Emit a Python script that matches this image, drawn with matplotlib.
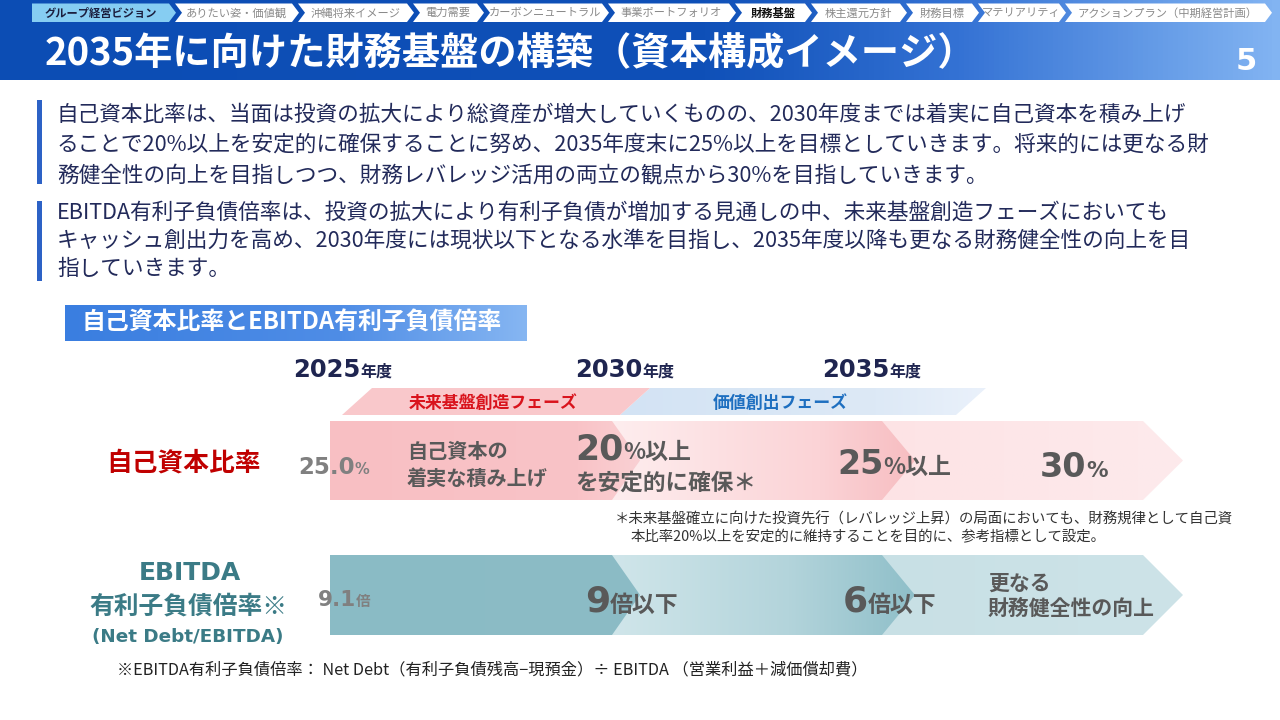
import numpy as np
import matplotlib
matplotlib.use("Agg")
import matplotlib.pyplot as plt
from matplotlib.patches import Polygon, Rectangle
from matplotlib.colors import LinearSegmentedColormap

JP = ['Noto Sans CJK JP', 'DejaVu Sans']
NUM = ['DejaVu Sans', 'Noto Sans CJK JP']
plt.rcParams['font.family'] = JP

# ---------------- data ----------------
nav_items = ["グループ経営ビジョン", "ありたい姿・価値観", "沖縄将来イメージ", "電力需要",
             "カーボンニュートラル", "事業ポートフォリオ", "財務基盤", "株主還元方針",
             "財務目標", "マテリアリティ", "アクションプラン（中期経営計画）"]
nav_edges = [32, 172, 295, 410, 480, 605, 732, 808, 903, 975, 1062, 1268]
nav_current_section = 0
nav_current_page = 6
title = "2035年に向けた財務基盤の構築（資本構成イメージ）"
page_no = "5"
para1 = ["自己資本比率は、当面は投資の拡大により総資産が増大していくものの、2030年度までは着実に自己資本を積み上げ",
         "ることで20%以上を安定的に確保することに努め、2035年度末に25%以上を目標としていきます。将来的には更なる財",
         "務健全性の向上を目指しつつ、財務レバレッジ活用の両立の観点から30%を目指していきます。"]
para2 = ["EBITDA有利子負債倍率は、投資の拡大により有利子負債が増加する見通しの中、未来基盤創造フェーズにおいても",
         "キャッシュ創出力を高め、2030年度には現状以下となる水準を目指し、2035年度以降も更なる財務健全性の向上を目",
         "指していきます。"]
section_label = "自己資本比率とEBITDA有利子負債倍率"
years = ["2025", "2030", "2035"]
year_suffix = "年度"
phases = ["未来基盤創造フェーズ", "価値創出フェーズ"]
equity_label = "自己資本比率"
equity_current = "25.0"
equity_current_unit = "%"
equity_build_text = ["自己資本の", "着実な積み上げ"]
equity_targets = ["20", "25", "30"]
equity_target_units = ["%以上", "%以上", "%"]
equity_2030_note = "を安定的に確保＊"
ebitda_label = ["EBITDA", "有利子負債倍率※", "(Net Debt/EBITDA)"]
ebitda_current = "9.1"
ebitda_current_unit = "倍"
ebitda_targets = ["9", "6"]
ebitda_target_unit = "倍以下"
ebitda_final = ["更なる", "財務健全性の向上"]
footnote = ["＊未来基盤確立に向けた投資先行（レバレッジ上昇）の局面においても、財務規律として自己資",
            "本比率20%以上を安定的に維持することを目的に、参考指標として設定。"]
bottom_note = "※EBITDA有利子負債倍率： Net Debt（有利子負債残高−現預金）÷ EBITDA （営業利益＋減価償却費）"

# ---------------- canvas ----------------
fig = plt.figure(figsize=(12.8, 7.2), dpi=100)
ax = fig.add_axes([0, 0, 1, 1])
ax.set_xlim(0, 1280)
ax.set_ylim(720, 0)
ax.axis('off')
renderer = fig.canvas.get_renderer()


def grad_poly(verts, stops, z=1):
    poly = Polygon(verts, closed=True, facecolor='none', edgecolor='none',
                   transform=ax.transData)
    ax.add_patch(poly)
    xs = [v[0] for v in verts]
    ys = [v[1] for v in verts]
    cmap = LinearSegmentedColormap.from_list('g', stops)
    im = ax.imshow(np.linspace(0, 1, 256).reshape(1, -1), cmap=cmap,
                   extent=(min(xs), max(xs), max(ys), min(ys)), aspect='auto',
                   interpolation='bilinear', zorder=z)
    im.set_clip_path(poly)
    return im


def run(x, y, parts, z=10):
    """parts: list of (text, size_pt, family, weight, color); baseline aligned."""
    cur = x
    for s, size, fam, wt, col in parts:
        t = ax.text(cur, y, s, fontsize=size, family=fam, fontweight=wt, color=col,
                    ha='left', va='baseline', zorder=z)
        cur += t.get_window_extent(renderer).width
    return cur


def chevron(x0, x1, y0, y1, tip):
    ym = (y0 + y1) / 2
    return [(x0, y0), (x1, y0), (x1 + tip, ym), (x1, y1), (x0, y1)]


# header
grad_poly([(0, 0), (1280, 0), (1280, 80), (0, 80)],
          [(0, '#0c4db4'), (0.55, '#0f50b8'), (0.75, '#3472d4'), (1, '#82b4f2')], z=1)

# nav bar
for i, name in enumerate(nav_items):
    x0 = nav_edges[i] + (3 if i else 0)
    x1 = nav_edges[i + 1] - 3
    d = 7
    y0, y1 = 3.5, 22
    ym = (y0 + y1) / 2
    pts = [(x0, y0), (x1, y0), (x1 + d, ym), (x1, y1), (x0, y1)]
    if i:
        pts.append((x0 + d, ym))
    if i == nav_current_section:
        fc, tc, wt = '#86cdf2', '#1b1f3f', 'bold'
    elif i == nav_current_page:
        fc, tc, wt = 'white', '#111111', 'bold'
    else:
        fc, tc, wt = 'white', '#8a8a8a', 'normal'
    ax.add_patch(Polygon(pts, closed=True, facecolor=fc, edgecolor='none', zorder=3))
    ax.text((x0 + x1) / 2 + (3 if i else 0), ym + 0.5, name, fontsize=8.1, color=tc,
            fontweight=wt, ha='center', va='center', zorder=4)

ax.text(45, 54, title, fontsize=27.5, color='white', fontweight='bold',
        ha='left', va='center', zorder=5)
ax.text(1246, 62, page_no, fontsize=22, color='white', fontweight='bold',
        family=NUM, ha='center', va='center', zorder=5)

# paragraphs
navy = '#222a5a'
ax.add_patch(Rectangle((37, 100), 5, 84, facecolor='#2d62c6', edgecolor='none'))
ax.add_patch(Rectangle((37, 201), 5, 80, facecolor='#2d62c6', edgecolor='none'))
for k, line in enumerate(para1):
    ax.text(57, 115 + 30 * k, line, fontsize=15.6, color=navy, ha='left', va='center')
for k, line in enumerate(para2):
    ax.text(57, 213 + 28 * k, line, fontsize=15.6, color=navy, ha='left', va='center')

# section label
grad_poly([(65, 305), (527, 305), (527, 341), (65, 341)],
          [(0, '#3a7ee0'), (0.6, '#4f8de6'), (1, '#86b6f2')], z=2)
ax.text(82, 323, section_label, fontsize=17.2, color='white', fontweight='bold',
        ha='left', va='center', zorder=5)

# years
year_x = [293, 575, 822]
for yr, xx in zip(years, year_x):
    run(xx, 377, [(yr, 17.5, NUM, 'bold', '#1f2550'),
                  (year_suffix, 11.5, JP, 'bold', '#1f2550')])

# phase bars
grad_poly([(620, 415), (650, 388), (986, 388), (956, 415)],
          [(0, '#d3e3f4'), (0.7, '#dde9f6'), (1, '#eaf1fb')], z=2)
ax.add_patch(Polygon([(342, 415), (372, 388), (650, 388), (620, 415)], closed=True,
                     facecolor='#f9c8cb', edgecolor='none', zorder=3))
ax.text(493, 403, phases[0], fontsize=12.2, color='#d9131c', fontweight='bold',
        ha='center', va='center', zorder=5)
ax.text(780, 403, phases[1], fontsize=12.2, color='#1e6fc0', fontweight='bold',
        ha='center', va='center', zorder=5)

# equity row chevrons
r1 = (421, 500)
grad_poly(chevron(870, 1143, r1[0], r1[1], 40),
          [(0, '#fde3e5'), (1, '#fdeaec')], z=2)
grad_poly(chevron(600, 882, r1[0], r1[1], 33),
          [(0, '#feeff0'), (0.7, '#fbd3d6'), (1, '#f7bdc1')], z=3)
grad_poly(chevron(330, 612, r1[0], r1[1], 28),
          [(0, '#f8bfc3'), (0.8, '#f9c3c7'), (1, '#fad0d3')], z=4)

# ebitda row chevrons
r2 = (555, 635)
grad_poly(chevron(870, 1143, r2[0], r2[1], 40),
          [(0, '#c8e0e5'), (1, '#cde3e8')], z=2)
grad_poly(chevron(600, 882, r2[0], r2[1], 33),
          [(0, '#d2e7eb'), (0.6, '#b3d4db'), (1, '#8fbfc9')], z=3)
grad_poly(chevron(330, 612, r2[0], r2[1], 28),
          [(0, '#8abbc5'), (1, '#8cbcc6')], z=4)

dark = '#595959'
grey = '#808080'

# equity row text
ax.text(184, 463, equity_label, fontsize=18.5, color='#c00000', fontweight='bold',
        ha='center', va='center', zorder=10)
run(298, 474, [(equity_current, 16.5, NUM, 'bold', grey),
               (equity_current_unit, 10.5, NUM, 'bold', grey)])
ax.text(407, 452, equity_build_text[0], fontsize=14.5, color=dark, fontweight='bold',
        ha='left', va='center', zorder=10)
ax.text(407, 478, equity_build_text[1], fontsize=14.5, color=dark, fontweight='bold',
        ha='left', va='center', zorder=10)
run(575, 459, [(equity_targets[0], 25, NUM, 'bold', dark),
               (equity_target_units[0], 16.5, JP, 'bold', dark)])
ax.text(575, 483, equity_2030_note, fontsize=16.3, color=dark, fontweight='bold',
        ha='left', va='center', zorder=10)
run(837, 474, [(equity_targets[1], 24, NUM, 'bold', dark),
               (equity_target_units[1], 16.5, JP, 'bold', dark)])
run(1040, 477, [(equity_targets[2], 24, NUM, 'bold', dark),
                (equity_target_units[2], 15.5, NUM, 'bold', dark)])

# footnote
ax.text(615, 519, footnote[0], fontsize=10.4, color='#333333', ha='left', va='center')
ax.text(631, 537, footnote[1], fontsize=10.4, color='#333333', ha='left', va='center')

# ebitda row text
teal = '#3b7b86'
ax.text(190, 573, ebitda_label[0], fontsize=18, color=teal, fontweight='bold',
        family=NUM, ha='center', va='center', zorder=10)
ax.text(188, 606, ebitda_label[1], fontsize=17.8, color=teal, fontweight='bold',
        ha='center', va='center', zorder=10)
ax.text(188, 637, ebitda_label[2], fontsize=13.2, color=teal, fontweight='bold',
        family=NUM, ha='center', va='center', zorder=10)
run(318, 606, [(ebitda_current, 15.5, NUM, 'bold', grey),
               (ebitda_current_unit, 10.5, JP, 'bold', grey)])
run(585, 612, [(ebitda_targets[0], 26, NUM, 'bold', dark),
               (ebitda_target_unit, 16.5, JP, 'bold', dark)])
run(843, 612, [(ebitda_targets[1], 26, NUM, 'bold', dark),
               (ebitda_target_unit, 16.5, JP, 'bold', dark)])
ax.text(988, 583, ebitda_final[0], fontsize=15, color=dark, fontweight='bold',
        ha='left', va='center', zorder=10)
ax.text(988, 608, ebitda_final[1], fontsize=15, color=dark, fontweight='bold',
        ha='left', va='center', zorder=10)

# bottom note
ax.text(117, 670, bottom_note, fontsize=11.7, color='#222222', ha='left', va='center')

ax.set_xlim(0, 1280)
ax.set_ylim(720, 0)
fig.savefig("out.png", dpi=100)
